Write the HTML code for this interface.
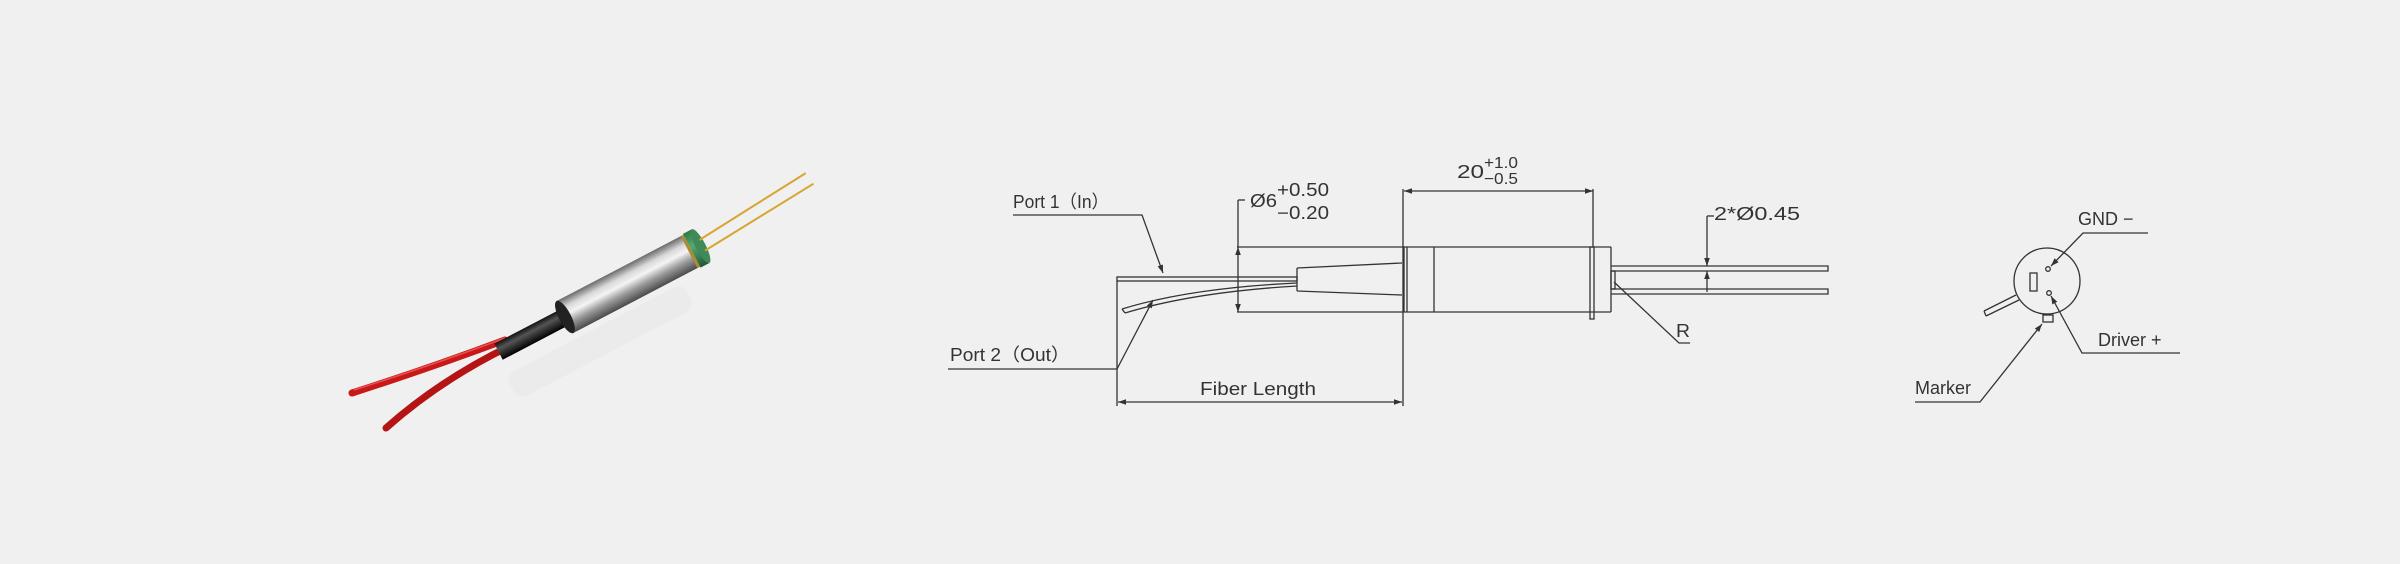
<!DOCTYPE html>
<html><head><meta charset="utf-8">
<style>
html,body{margin:0;padding:0;background:#f0f0f0;}
svg{display:block;}
text{font-family:"Liberation Sans",sans-serif;fill:#333;}
</style></head>
<body>
<svg width="2400" height="564" viewBox="0 0 2400 564" xmlns="http://www.w3.org/2000/svg">
<defs>
<linearGradient id="metal" x1="0" y1="0" x2="0" y2="1">
<stop offset="0" stop-color="#6a6a6a"/><stop offset="0.25" stop-color="#d8d8d8"/>
<stop offset="0.45" stop-color="#f4f4f4"/><stop offset="0.7" stop-color="#9a9a9a"/>
<stop offset="1" stop-color="#4a4a4a"/></linearGradient>
<linearGradient id="blk" x1="0" y1="0" x2="0" y2="1">
<stop offset="0" stop-color="#111"/><stop offset="0.35" stop-color="#555"/><stop offset="1" stop-color="#000"/></linearGradient>
<linearGradient id="grn" x1="0" y1="0" x2="0" y2="1">
<stop offset="0" stop-color="#2f7a4a"/><stop offset="0.4" stop-color="#5aa870"/><stop offset="1" stop-color="#1f5a35"/></linearGradient>
<marker id="ah" viewBox="0 0 10 10" refX="10" refY="5" markerWidth="9" markerHeight="8" orient="auto-start-reverse" markerUnits="userSpaceOnUse">
<path d="M0,1.5 L10,5 L0,8.5 z" fill="#333"/></marker>
</defs>
<rect width="2400" height="564" fill="#f0f0f0"/>

<!-- product photo -->
<g opacity="0.35">
<g transform="translate(565,360) rotate(-27.6)">
<rect x="-60" y="-14" width="200" height="28" fill="#e2e2e2" rx="10"/>
</g></g>
<path d="M505,340 Q430,368 352,393" stroke="#c81818" stroke-width="7" fill="none" stroke-linecap="round"/>
<path d="M510,346 Q440,380 386,428" stroke="#b51414" stroke-width="7" fill="none" stroke-linecap="round"/>
<path d="M505,338 Q430,366 354,390" stroke="#e85050" stroke-width="1.5" fill="none"/>
<g transform="translate(565,317) rotate(-27.6)">
<rect x="-75" y="-9" width="80" height="18" fill="url(#blk)"/>
<ellipse cx="0" cy="0" rx="6" ry="18" fill="#111"/>
<rect x="0" y="-18" width="142" height="36" fill="url(#metal)"/>
<ellipse cx="0" cy="0" rx="6" ry="18" fill="#222"/>
<rect x="140" y="-18" width="3" height="36" fill="#b08a30"/>
<rect x="143" y="-19" width="10" height="38" fill="url(#grn)"/>
<ellipse cx="153" cy="0" rx="5" ry="19" fill="#3f8a58"/>
<line x1="155" y1="-6" x2="280" y2="-16" stroke="#d6a630" stroke-width="2"/>
<line x1="155" y1="6" x2="282" y2="-3" stroke="#d6a630" stroke-width="2"/>
</g>

<!-- technical drawing -->
<g stroke="#333" stroke-width="1.3" fill="none">
<rect x="1117" y="277" width="180" height="4"/>
<path d="M1122,309 Q1190,288 1297,283"/>
<path d="M1125,313 Q1194,292 1297,286"/>
<line x1="1122" y1="309" x2="1125" y2="313"/>
<path d="M1297,268 L1402,263 M1297,291 L1402,295 M1297,268 L1297,291"/>
<line x1="1237" y1="247" x2="1611" y2="247"/>
<line x1="1237" y1="312" x2="1611" y2="312"/>
<line x1="1611" y1="247" x2="1611" y2="312"/>
<line x1="1404" y1="247" x2="1404" y2="312"/>
<line x1="1407" y1="247" x2="1407" y2="312"/>
<line x1="1434" y1="247" x2="1434" y2="312"/>
<rect x="1590" y="247" width="4" height="72"/>
<path d="M1611,266 L1828,266 L1828,271 L1611,271"/>
<path d="M1611,289 L1828,289 L1828,294 L1611,294"/>
<rect x="1611" y="271" width="4" height="18"/>
<line x1="1238" y1="247" x2="1238" y2="312" marker-start="url(#ah)" marker-end="url(#ah)"/>
<line x1="1238" y1="200" x2="1238" y2="247"/>
<line x1="1238" y1="200" x2="1245" y2="200"/>
<line x1="1404" y1="191" x2="1593" y2="191" marker-start="url(#ah)" marker-end="url(#ah)"/>
<line x1="1403" y1="189" x2="1403" y2="406"/>
<line x1="1593" y1="189" x2="1593" y2="247"/>
<line x1="1117" y1="281" x2="1117" y2="406"/>
<line x1="1118" y1="402" x2="1402" y2="402" marker-start="url(#ah)" marker-end="url(#ah)"/>
<line x1="1707" y1="216" x2="1707" y2="266" marker-end="url(#ah)"/>
<line x1="1707" y1="292" x2="1707" y2="271" marker-end="url(#ah)"/>
<line x1="1707" y1="216" x2="1714" y2="216"/>
<path d="M1690,343 L1679,343 L1614,282"/>
<path d="M1013,215 L1142,215 L1163,273" marker-end="url(#ah)"/>
<path d="M948,369 L1117,369 L1153,300" marker-end="url(#ah)"/>
</g>
<g font-size="18">
<text x="1013" y="208" textLength="96" lengthAdjust="spacingAndGlyphs">Port 1（In）</text>
<text x="950" y="361" textLength="120" lengthAdjust="spacingAndGlyphs">Port 2（Out）</text>
<text x="1200" y="395" textLength="116" lengthAdjust="spacingAndGlyphs">Fiber Length</text>
<text x="1250" y="207" textLength="27" lengthAdjust="spacingAndGlyphs">Ø6</text>
<text x="1277" y="196" textLength="52" lengthAdjust="spacingAndGlyphs">+0.50</text>
<text x="1277" y="219" textLength="52" lengthAdjust="spacingAndGlyphs">−0.20</text>
<text x="1457" y="178" textLength="27" lengthAdjust="spacingAndGlyphs">20</text>
<text x="1484" y="168" font-size="16" textLength="34" lengthAdjust="spacingAndGlyphs">+1.0</text>
<text x="1484" y="184" font-size="16" textLength="34" lengthAdjust="spacingAndGlyphs">−0.5</text>
<text x="1714" y="220" textLength="86" lengthAdjust="spacingAndGlyphs">2*Ø0.45</text>
<text x="1676" y="337" textLength="14" lengthAdjust="spacingAndGlyphs">R</text>
</g>

<!-- end view -->
<g stroke="#333" stroke-width="1.3" fill="none">
<circle cx="2047" cy="281" r="33"/>
<rect x="2030" y="273" width="7" height="18"/>
<circle cx="2048" cy="269" r="2.3"/>
<circle cx="2049" cy="293" r="2.3"/>
<rect x="2043" y="315" width="10" height="7"/>
<path d="M1984,311 L2016,295 M1986,316 L2019,300 M1984,311 L1986,316"/>
<path d="M2148,233 L2083,233 L2051,266" marker-end="url(#ah)"/>
<path d="M2180,353 L2082,353 L2051,296" marker-end="url(#ah)"/>
<path d="M1915,402 L1980,402 L2042,324" marker-end="url(#ah)"/>
</g>
<g font-size="18">
<text x="2078" y="225">GND −</text>
<text x="2098" y="346">Driver +</text>
<text x="1915" y="394">Marker</text>
</g>
</svg>
</body></html>
